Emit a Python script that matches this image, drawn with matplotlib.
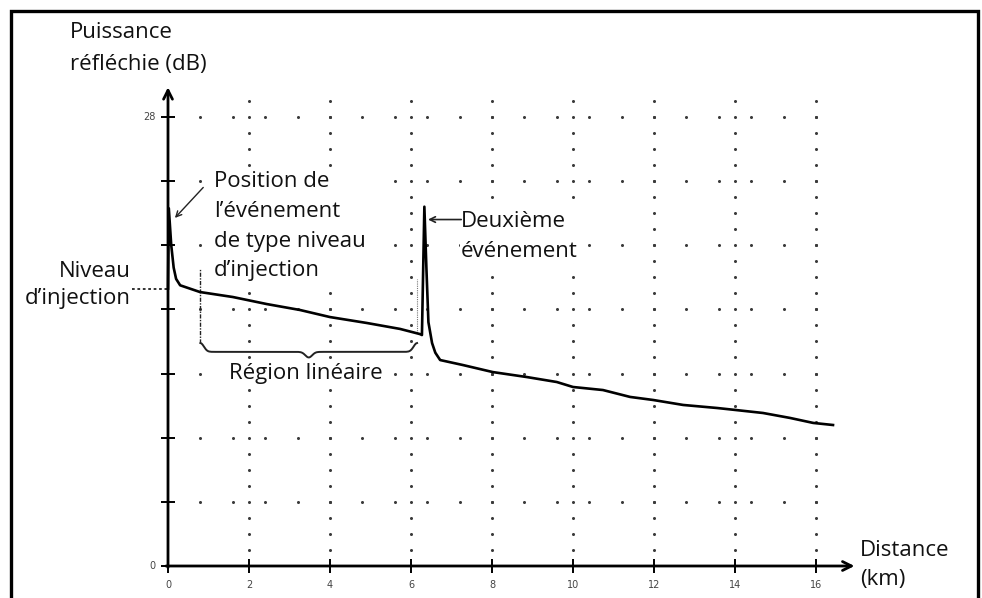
import numpy as np
import matplotlib
matplotlib.use("Agg")
import matplotlib.pyplot as plt
from matplotlib.patches import Rectangle

plt.rcParams['font.family'] = ['Open Sans', 'DejaVu Sans']

# OTDR trace (km, dB)
dist_km = [0.0, 0.02, 0.08, 0.14, 0.2, 0.3, 0.79, 1.60, 2.44, 3.26, 4.00, 4.91,
           5.73, 6.22, 6.27, 6.33, 6.38, 6.43, 6.52, 6.60, 6.72, 7.28, 8.02, 8.86,
           9.60, 10.0, 10.74, 11.41, 11.98, 12.72, 13.56, 14.0, 14.69, 15.36,
           15.93, 16.42]
power_db = [17.3, 22.3, 20.0, 18.6, 17.9, 17.5, 17.08, 16.77, 16.33, 15.96, 15.52,
            15.15, 14.78, 14.46, 14.40, 22.4, 18.6, 15.2, 13.9, 13.3, 12.84, 12.53,
            12.09, 11.78, 11.47, 11.16, 10.97, 10.54, 10.35, 10.04, 9.85, 9.73,
            9.54, 9.23, 8.92, 8.79]

x_ticks = [0, 2, 4, 6, 8, 10, 12, 14, 16]
y_ticks = [0, 4, 8, 12, 16, 20, 24, 28]
y_tick_labels = {0: '0', 28: '28'}
injection_level = 17.3
linear_start, linear_end = 0.8, 6.15

ink = '#111111'
dot = '#3a3a3a'

fig = plt.figure(figsize=(9.82, 5.98), dpi=100)
ax = fig.add_axes([0, 0, 1, 1])
# 40.5 px per km, 16.04 px per dB, origin at pixel (168, 566)
ax.set_xlim(-168 / 40.5, (982 - 168) / 40.5)
ax.set_ylim(-(598 - 566) / 16.04, 566 / 16.04)
ax.axis('off')


def px(x, y):
    # helper: picture pixel -> data coords, for placing labels only
    return (x - 168) / 40.5, (566 - y) / 16.04


# outer frame
fig.patches.append(Rectangle((0.0115, -0.02), 0.984, 1.0015, transform=fig.transFigure,
                             fill=False, lw=2.4, ec='black'))

# dotted grid: vertical columns every 2 km, horizontal rows every 4 dB
for xv in x_ticks[1:]:
    ys = np.arange(1, 30)
    ax.plot([xv] * len(ys), ys, ls='none', marker='o', ms=2.2, mew=0, color=dot, zorder=1)
row_x = np.arange(1, 21) * 0.8
for yv in y_ticks[1:]:
    ax.plot(row_x, [yv] * len(row_x), ls='none', marker='o', ms=2.2, mew=0, color=dot, zorder=1)

# axes with arrows
ax.annotate('', xy=(0, 29.85), xytext=(0, -0.1),
            arrowprops=dict(arrowstyle='->', lw=2.0, color='black', mutation_scale=16,
                            shrinkA=0, shrinkB=0), zorder=4)
ax.annotate('', xy=(16.95, 0), xytext=(-0.05, 0),
            arrowprops=dict(arrowstyle='->', lw=2.0, color='black', mutation_scale=16,
                            shrinkA=0, shrinkB=0), zorder=4)
ax.plot(x_ticks, [0] * len(x_ticks), ls='none', marker='|', ms=10, mew=1.4, color='black', zorder=4)
ax.plot([0] * len(y_ticks), y_ticks, ls='none', marker='_', ms=10, mew=1.4, color='black', zorder=4)

for xv in x_ticks:
    ax.text(xv, -1.2, str(xv), ha='center', va='center', fontsize=7, color='#444',
            family='DejaVu Sans')
for yv, lab in y_tick_labels.items():
    ax.text(-0.3, yv, lab, ha='right', va='center', fontsize=7, color='#444',
            family='DejaVu Sans')

# trace
ax.plot(dist_km, power_db, color='black', lw=1.9, zorder=5, solid_joinstyle='round')

# injection level dotted line and linear region markers
ax.plot([-0.9, 0], [injection_level, injection_level], ls=(0, (1.5, 1.5)), lw=1.3, color='#222', zorder=3)
ax.plot([linear_start, linear_start], [13.9, 18.6], ls=(0, (3, 1, 1, 1)), lw=1.0, color='#222', zorder=3)
ax.plot([linear_end, linear_end], [14.5, 17.9], ls=(0, (1, 1)), lw=0.8, color='#777', zorder=3)

# curly brace under the linear region
bx = np.linspace(linear_start, linear_end, 200)
mid = (linear_start + linear_end) / 2
by = 13.35 + 0.55 * (np.exp(-((bx - linear_start) / 0.12) ** 2) + np.exp(-((bx - linear_end) / 0.12) ** 2)) \
     - 0.35 * np.exp(-((bx - mid) / 0.12) ** 2)
ax.plot(bx, by, color='#222', lw=1.4, zorder=3)

# labels
fs = 16
white = dict(fc='white', ec='none', pad=1)
ax.text(*px(70, 22), 'Puissance\nréfléchie (dB)', ha='left', va='top', color=ink,
        fontsize=fs, linespacing=1.7, zorder=6)
ax.text(*px(214, 171), 'Position de\nl\u2019événement\nde type niveau\nd\u2019injection',
        ha='left', va='top', color=ink, fontsize=fs, linespacing=1.55, bbox=white, zorder=6)
ax.text(*px(131, 261), 'Niveau\nd\u2019injection', ha='right', va='top', multialignment='right',
        color=ink, fontsize=fs, linespacing=1.4, zorder=6)
ax.text(*px(461, 211), 'Deuxième\névénement', ha='left', va='top', color=ink, fontsize=fs,
        linespacing=1.55, bbox=white, zorder=6)
ax.text(*px(306, 373), 'Région linéaire', ha='center', va='center', color=ink, fontsize=fs,
        bbox=white, zorder=6)
ax.text(*px(860, 540), 'Distance\n(km)', ha='left', va='top', color=ink, fontsize=fs,
        linespacing=1.5, zorder=6)

# pointer arrows
ax.annotate('', xy=(0.17, 21.7), xytext=(0.87, 23.6),
            arrowprops=dict(arrowstyle='->', lw=1.0, color='#222', shrinkA=0, shrinkB=0), zorder=6)
ax.annotate('', xy=(6.42, 21.6), xytext=(7.24, 21.6),
            arrowprops=dict(arrowstyle='->', lw=1.2, color='#222', shrinkA=0, shrinkB=0), zorder=6)

fig.savefig('out.png', dpi=100)
